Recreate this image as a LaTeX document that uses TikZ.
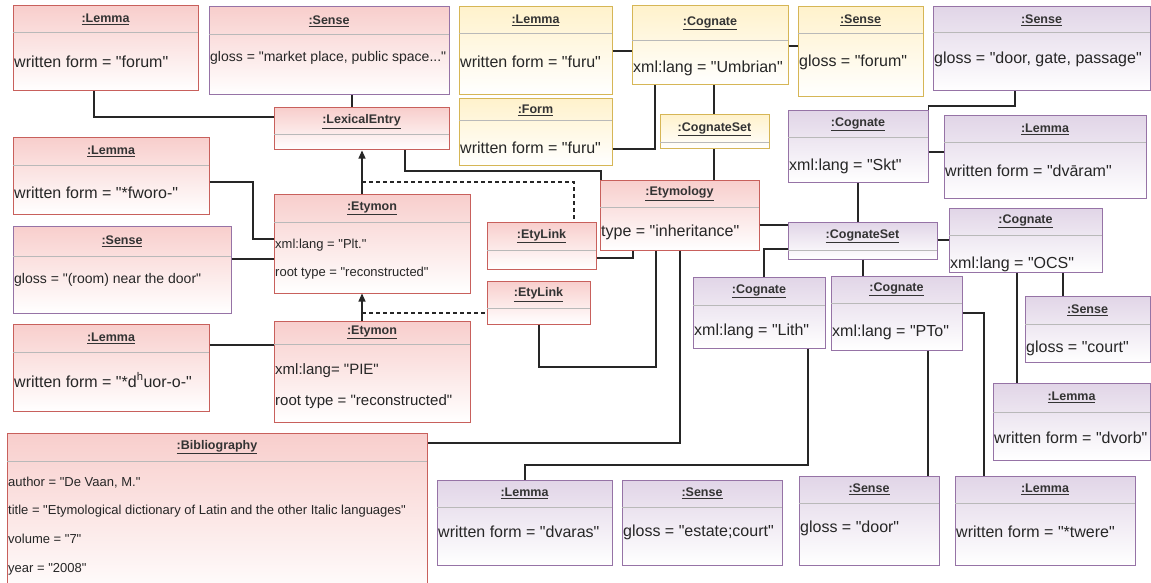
\documentclass[tikz,border=0pt]{standalone}
\usepackage{fontspec}
\setmainfont{Liberation Sans}
\newfontfamily\lib{Liberation Sans}
\usetikzlibrary{fit,arrows.meta}
\definecolor{redF}{HTML}{F8CECC}
\definecolor{redS}{HTML}{C8605C}
\definecolor{yelF}{HTML}{FFF2CC}
\definecolor{yelS}{HTML}{D6B656}
\definecolor{purF}{HTML}{E1D5E7}
\definecolor{purS}{HTML}{9673A6}
\newcommand\objbox[8]{%
  \node[fit={(#2,#3)(#4,#5)}, inner sep=0pt, #7] (#1) {};
  \draw[divline] (#2,#6) -- (#4,#6);
  \node[ttl] at ({(#2+#4)/2},{(#3+#6)/2}) {\underline{#8}};
}
\newcommand\attrtext[4]{\node[attr, font=\lib\fontsize{#3}{#3}\selectfont] at (#1,#2) {#4};}
\begin{document}
\begin{tikzpicture}[x=1pt,y=-1pt,
  box/.style={draw, line width=1pt},
  redbox/.style={box, draw=redS, top color=redF, bottom color=white},
  redpbox/.style={box, draw=purS, top color=redF, bottom color=white},
  yelbox/.style={box, draw=yelS, top color=yelF, bottom color=white},
  purbox/.style={box, draw=purS, top color=purF, bottom color=white},
  divline/.style={draw=gray!55, line width=1pt},
  ttl/.style={font=\lib\fontsize{12.5}{14}\selectfont\bfseries, text=black!80, inner sep=0pt},
  attr/.style={anchor=west, inner sep=0pt, text=black!85},
  conn/.style={draw=black!85, line width=1.1pt},
  dconn/.style={conn, dash pattern=on 4pt off 3pt},
  arr/.style={conn, -{Triangle[width=7pt,length=8pt]}}
  ]
\useasboundingbox (0,0) rectangle (1151,583);
\clip (0,0) rectangle (1151,583);
\fill[white] (0,0) rectangle (1151,583);

% ---- red boxes ----
\objbox{lemA}{13}{6}{198}{91}{33}{redbox}{:Lemma}
\attrtext{14}{62}{16}{written form = "forum"}
\objbox{senA}{209}{7}{449}{95}{35}{redpbox}{:Sense}
\attrtext{210}{58}{14}{gloss = "market place, public space..."}
\objbox{lexE}{274}{108}{449}{150}{135}{redbox}{:LexicalEntry}
\objbox{lemB}{13}{138}{209}{214}{165}{redbox}{:Lemma}
\attrtext{14}{193}{16}{written form = "*fworo-"}
\objbox{senB}{13}{226}{231}{313}{256}{redpbox}{:Sense}
\attrtext{14}{280}{14}{gloss = "(room) near the door"}
\objbox{lemC}{13}{324}{209}{411}{352}{redbox}{:Lemma}
\attrtext{14}{380}{16}{written form = "*d\textsuperscript{h}uor-o-"}
\objbox{etA}{274}{194}{470}{293}{222}{redbox}{:Etymon}
\attrtext{275}{245}{13}{xml:lang = "Plt."}
\attrtext{275}{273}{13}{root type = "reconstructed"}
\objbox{etB}{274}{321}{470}{422}{344}{redbox}{:Etymon}
\attrtext{275}{371}{15}{xml:lang= "PIE"}
\attrtext{275}{402}{15}{root type = "reconstructed"}
\objbox{etyA}{487}{222}{596}{269}{250}{redbox}{:EtyLink}
\objbox{etyB}{487}{281}{590}{324}{308}{redbox}{:EtyLink}
\objbox{etym}{600}{180}{759}{250}{207}{redbox}{:Etymology}
\attrtext{601}{232}{16}{type = "inheritance"}
\objbox{bib}{7}{433}{427}{600}{461}{redbox}{:Bibliography}
\attrtext{8}{483}{13}{author = "De Vaan, M."}
\attrtext{8}{511}{13}{title = "Etymological dictionary of Latin and the other Italic languages"}
\attrtext{8}{539}{13}{volume = "7"}
\attrtext{8}{569}{13}{year = "2008"}

% ---- yellow boxes ----
\objbox{lemY}{459}{7}{612}{95}{34}{yelbox}{:Lemma}
\attrtext{460}{62}{16}{written form = "furu"}
\objbox{formY}{459}{99}{612}{165}{121}{yelbox}{:Form}
\attrtext{460}{148}{16}{written form = "furu"}
\objbox{cogU}{632}{6}{788}{85}{41}{yelbox}{:Cognate}
\attrtext{633}{68}{16}{xml:lang = "Umbrian"}
\objbox{csY}{660}{115}{769}{149}{143}{yelbox}{:CognateSet}
\objbox{senY}{798}{7}{923}{97}{34}{yelbox}{:Sense}
\attrtext{799}{62}{16}{gloss = "forum"}

% ---- purple boxes ----
\objbox{senP}{933}{7}{1150}{91}{33}{purbox}{:Sense}
\attrtext{934}{59}{16}{gloss = "door, gate, passage"}
\objbox{cogS}{788}{111}{928}{182}{138}{purbox}{:Cognate}
\attrtext{789}{166}{16}{xml:lang = "Skt"}
\objbox{lemS}{944}{116}{1146}{198}{143}{purbox}{:Lemma}
\attrtext{945}{171}{16}{written form = "dvāram"}
\objbox{csB}{788}{222}{937}{259}{250}{purbox}{:CognateSet}
\objbox{cogO}{949}{208}{1102}{272}{235}{purbox}{:Cognate}
\attrtext{950}{264}{16}{xml:lang = "OCS"}
\objbox{cogL}{693}{277}{825}{348}{305}{purbox}{:Cognate}
\attrtext{694}{331}{16}{xml:lang = "Lith"}
\objbox{cogP}{831}{276}{962}{350}{303}{purbox}{:Cognate}
\attrtext{832}{332}{16}{xml:lang = "PTo"}
\objbox{senC}{1025}{296}{1150}{362}{324}{purbox}{:Sense}
\attrtext{1026}{348}{16}{gloss = "court"}
\objbox{lemV}{993}{383}{1150}{460}{412}{purbox}{:Lemma}
\attrtext{994}{438}{16}{written form = "dvorb"}
\objbox{lemD}{437}{480}{612}{565}{507}{purbox}{:Lemma}
\attrtext{438}{532}{16}{written form = "dvaras"}
\objbox{senE}{622}{480}{782}{565}{507}{purbox}{:Sense}
\attrtext{623}{532}{16}{gloss = "estate;court"}
\objbox{senD}{799}{476}{939}{565}{503}{purbox}{:Sense}
\attrtext{800}{528}{16}{gloss = "door"}
\objbox{lemT}{955}{476}{1135}{565}{503}{purbox}{:Lemma}
\attrtext{956}{532}{16}{written form = "*twere"}

% ---- connectors ----
\draw[conn] (lemA.south -| 94,0) |- (lexE.west |- 0,117);
\draw[conn] (senA.south -| 352,0) -- (lexE.north -| 352,0);
\draw[conn] (lexE.south -| 405,0) |- (601,171) -- (etym.north -| 601,0);
\draw[arr] (etA.north -| 362,0) -- (lexE.south -| 362,0);
\draw[dconn] (362,182) -| (etyA.north -| 574,0);
\draw[arr] (etB.north -| 362,0) -- (etA.south -| 362,0);
\draw[dconn] (362,313) -- (etyB.west |- 0,313);
\draw[conn] (lemB.east |- 0,182) -| (253,239) -- (etA.west |- 0,239);
\draw[conn] (senB.east |- 0,259) -- (etA.west |- 0,259);
\draw[conn] (lemC.east |- 0,345) -- (etB.west |- 0,345);
\draw[conn] (etyA.east |- 0,258) -| (etym.south -| 633,0);
\draw[conn] (etyB.south -| 539,0) -- (539,367) -| (etym.south -| 656,0);
\draw[conn] (etym.south -| 680,0) |- (bib.east |- 0,443);
\draw[conn] (etym.east |- 0,225) -- (csB.west |- 0,225);
\draw[conn] (etym.north -| 714,0) -- (csY.south -| 714,0);
\draw[conn] (cogU.south -| 714,0) -- (csY.north -| 714,0);
\draw[conn] (lemY.east |- 0,51) -- (cogU.west |- 0,51);
\draw[conn] (formY.east |- 0,149) -| (cogU.south -| 655,0);
\draw[conn] (cogU.east |- 0,46) -- (senY.west |- 0,46);
\draw[conn] (senP.south -| 1015,0) |- (cogS.north east |- 0,106) -- (cogS.north east);
\draw[conn] (cogS.east |- 0,152) -- (lemS.west |- 0,152);
\draw[conn] (cogS.south -| 858,0) -- (csB.north -| 858,0);
\draw[conn] (csB.west |- 0,249) -| (cogL.north -| 764,0);
\draw[conn] (csB.south -| 863,0) -- (cogP.north -| 863,0);
\draw[conn] (csB.east |- 0,240) -- (cogO.west |- 0,240);
\draw[conn] (cogO.south -| 1063,0) -- (senC.north -| 1063,0);
\draw[conn] (cogO.south -| 1017,0) -- (lemV.north -| 1017,0);
\draw[conn] (cogL.south -| 808,0) -- (808,465) -| (lemD.north -| 525,0);
\draw[conn] (cogP.south -| 928,0) -- (senD.north -| 928,0);
\draw[conn] (cogP.east |- 0,313) -| (lemT.north -| 984,0);
\end{tikzpicture}
\end{document}
